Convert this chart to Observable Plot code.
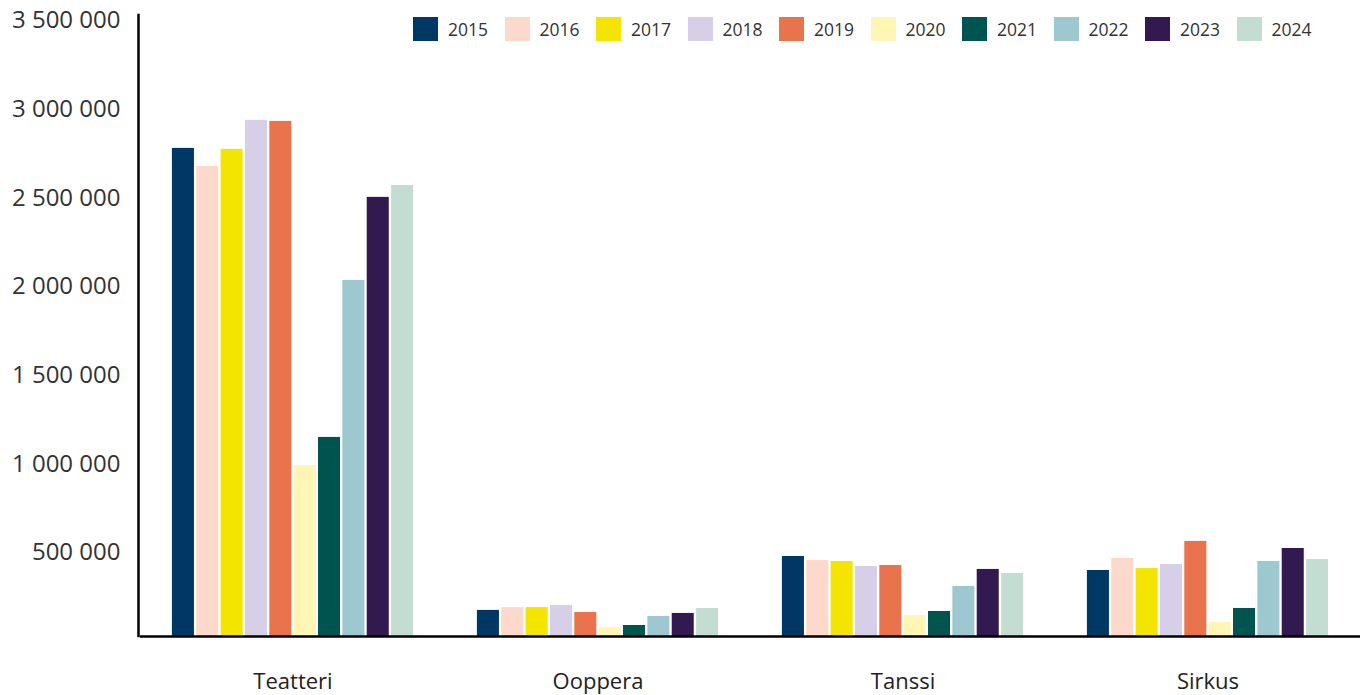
<!DOCTYPE html>
<html>
<head>
<meta charset="utf-8">
<script src="https://cdn.jsdelivr.net/npm/d3@7"></script>
<script src="https://cdn.jsdelivr.net/npm/@observablehq/plot@0.6"></script>
<style>
  html, body { margin: 0; padding: 0; background: #fff; }
  #wrap { position: relative; width: 1370px; height: 695px; font-family: "Open Sans", Lato, sans-serif; }
  #legend { position: absolute; top: 17px; left: 413px; display: flex; }
  .item { width: 91.5px; display: flex; align-items: center; }
  .sw { width: 25px; height: 24px; flex: none; }
  .lab { margin-left: 10px; font-size: 17.5px; color: #333; }
</style>
</head>
<body>
<div id="wrap"><div id="legend"></div></div>
<script>
const categories = ["Teatteri", "Ooppera", "Tanssi", "Sirkus"];
const years = ["2015","2016","2017","2018","2019","2020","2021","2022","2023","2024"];
const colors = ["#003865","#fdd9cb","#f3e500","#d7cfe8","#e8734d","#fff5b5","#005450","#9ec8cf","#321a50","#c4ddd3"];
const teatteri = [2751000, 2649000, 2745000, 2909000, 2903000, 964000, 1122000, 2007000, 2475000, 2542000];
const ooppera  = [147000, 163000, 163000, 175000, 135000, 51000, 62000, 113000, 130000, 158000];
const tanssi   = [451000, 428000, 423000, 395000, 400000, 118000, 141000, 282000, 378000, 355000];
const sirkus   = [372000, 440000, 383000, 406000, 536000, 79000, 158000, 423000, 496000, 434000];
const yTicks = [500000, 1000000, 1500000, 2000000, 2500000, 3000000, 3500000];

const series = [teatteri, ooppera, tanssi, sirkus];
const data = [];
categories.forEach((c, i) => years.forEach((y, j) => data.push({cat: c, year: y, value: series[i][j]})));

const fmt = d3.formatLocale({decimal: ",", thousands: " ", grouping: [3], currency: ["", ""]}).format(",d");

const chart = Plot.plot({
  width: 1370,
  height: 695,
  marginLeft: 140,
  marginRight: 10,
  marginTop: 15,
  marginBottom: 59,
  style: {fontFamily: "'Open Sans', Lato, sans-serif", color: "#333", background: "transparent"},
  fx: {domain: categories, padding: 0, label: null},
  x: {domain: years, paddingInner: 0.095, paddingOuter: 1.31, axis: null, round: false},
  y: {domain: [0, 3500000], label: null, axis: null},
  color: {domain: years, range: colors},
  marks: [
    Plot.barY(data, {fx: "cat", x: "year", y: "value", fill: "year"}),
    Plot.axisY({ticks: yTicks, tickFormat: fmt, tickSize: 0, tickPadding: 20, dy: 5, fontSize: 24, label: null, fill: "#333"}),
    Plot.axisFx({anchor: "bottom", tickSize: 0, tickPadding: 37, fontSize: 22, label: null, fill: "#222"}),
    Plot.ruleY([0], {stroke: "black", strokeWidth: 2.5}),
    Plot.frame({anchor: "left", facetAnchor: "left", stroke: "black", strokeWidth: 2.5})
  ]
});
const fr = chart.querySelector('[aria-label="frame"]');
if (fr) fr.setAttribute("transform", "translate(-1.5,0)");
document.getElementById("wrap").prepend(chart);

const legend = document.getElementById("legend");
years.forEach((y, i) => {
  const it = document.createElement("div");
  it.className = "item";
  it.innerHTML = `<div class="sw" style="background:${colors[i]}"></div><span class="lab">${y}</span>`;
  legend.appendChild(it);
});
</script>
</body>
</html>
